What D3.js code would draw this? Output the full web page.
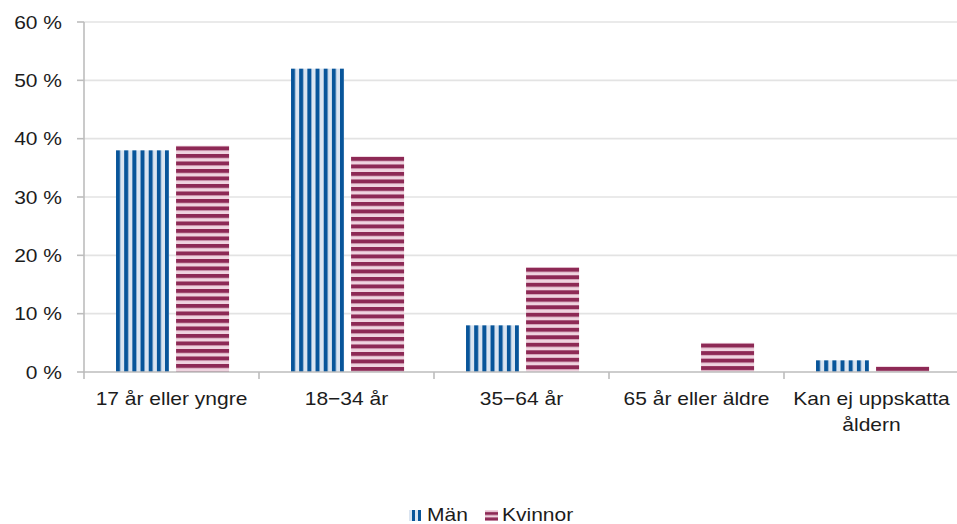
<!DOCTYPE html>
<html><head><meta charset="utf-8">
<script src="https://cdn.jsdelivr.net/npm/d3@7"></script>
<style>body{margin:0;background:#fff;} svg{display:block;font-family:"Liberation Sans",Arial,Helvetica,sans-serif;}</style>
</head><body><svg id="c" width="957" height="524"></svg>
<script>
const categories = ["17 år eller yngre", "18−34 år", "35−64 år", "65 år eller äldre", "Kan ej uppskatta åldern"];
const series = ["Män", "Kvinnor"];
const men = [38, 52, 8, 0, 2];
const women = [38.8, 37, 18, 5, 1];
const yTicks = [0, 10, 20, 30, 40, 50, 60];

const W = 957, H = 524;
const m = {left: 84, top: 22, bottom: 152};
const svg = d3.select("#c");
const defs = svg.append("defs");
const FS = 18.6, SX = 1.13;

const x0 = d3.scaleBand().domain(categories).range([m.left, m.left + 875]).paddingInner(0).paddingOuter(0);
const x1 = d3.scaleBand().domain(series).range([x0.bandwidth() * 0.183, x0.bandwidth() * 0.829]).paddingInner(0.117).paddingOuter(0);
const y = d3.scaleLinear().domain([0, 60]).range([H - m.bottom, m.top]);

const colors = {
  "Män": {dark: "#08559a", light: "#dbe5f1"},
  "Kvinnor": {dark: "#8d2955", light: "#efd3df"}
};

// gridlines
svg.append("g").selectAll("line").data(yTicks.filter(d => d > 0)).join("line")
  .attr("x1", m.left).attr("x2", W).attr("y1", d => y(d)).attr("y2", d => y(d))
  .attr("stroke", "#e3e3e3").attr("stroke-width", 1.6);

// bars
const rows = series.map((s, si) => categories.map((c, ci) => ({s, c, v: si === 0 ? men[ci] : women[ci]}))).flat();
const barG = svg.append("g");
rows.forEach((d, i) => {
  const bx = x0(d.c) + x1(d.s), bw = x1.bandwidth();
  const by = y(d.v), bh = y(0) - y(d.v);
  if (bh <= 0) return;
  const col = colors[d.s];
  const id = "p" + i;
  const p = defs.append("pattern").attr("id", id).attr("patternUnits", "userSpaceOnUse");
  if (d.s === "Män") {
    const dw = 4.0, per = (bw - dw) / 6;
    p.attr("x", bx).attr("y", 0).attr("width", per).attr("height", 10);
    p.append("rect").attr("width", per).attr("height", 10).attr("fill", col.light);
    p.append("rect").attr("width", dw).attr("height", 10).attr("fill", col.dark);
  } else {
    const per = 7.5;
    p.attr("x", 0).attr("y", by + 0.8).attr("width", 10).attr("height", per);
    p.append("rect").attr("width", 10).attr("height", per).attr("fill", col.light);
    p.append("rect").attr("width", 10).attr("height", 4.0).attr("fill", col.dark);
  }
  barG.append("rect").attr("x", bx).attr("y", by).attr("width", bw).attr("height", bh)
    .attr("fill", `url(#${id})`);
});

// axes
const axisCol = "#bdbdbd";
svg.append("line").attr("x1", m.left).attr("x2", m.left).attr("y1", y(60)).attr("y2", y(0) + 1)
  .attr("stroke", axisCol).attr("stroke-width", 1.6);
svg.append("line").attr("x1", m.left - 1).attr("x2", W).attr("y1", y(0)).attr("y2", y(0))
  .attr("stroke", axisCol).attr("stroke-width", 1.6);
svg.append("g").selectAll("line").data(yTicks).join("line")
  .attr("x1", m.left - 7).attr("x2", m.left).attr("y1", d => y(d)).attr("y2", d => y(d))
  .attr("stroke", axisCol).attr("stroke-width", 1.6);
svg.append("g").selectAll("line").data(categories).join("line")
  .attr("x1", d => x0(d)).attr("x2", d => x0(d)).attr("y1", y(0)).attr("y2", y(0) + 7)
  .attr("stroke", axisCol).attr("stroke-width", 1.6);

function txt(g, x, yy, s, anchor) {
  return g.append("text").attr("transform", `translate(${x},${yy}) scale(${SX},1)`)
    .attr("text-anchor", anchor).attr("font-size", FS).attr("fill", "#1c1c1c").text(s);
}
const yl = svg.append("g");
yTicks.forEach(t => txt(yl, 62, y(t) + 6.6, t + " %", "end"));

const xl = svg.append("g");
categories.forEach(c => {
  const cx = x0(c) + x0.bandwidth() / 2;
  const lines = c === "Kan ej uppskatta åldern" ? ["Kan ej uppskatta", "åldern"] : [c];
  lines.forEach((l, i) => txt(xl, cx, 405 + i * 26, l, "middle"));
});

// legend
const lg = svg.append("g");
const lp1 = defs.append("pattern").attr("id", "lm").attr("patternUnits", "userSpaceOnUse").attr("x", 409).attr("width", 6).attr("height", 10);
lp1.append("rect").attr("width", 6).attr("height", 10).attr("fill", colors["Män"].light);
lp1.append("rect").attr("x", 3).attr("width", 3).attr("height", 10).attr("fill", colors["Män"].dark);
const lp2 = defs.append("pattern").attr("id", "lk").attr("patternUnits", "userSpaceOnUse").attr("y", 510).attr("width", 10).attr("height", 5.5);
lp2.append("rect").attr("width", 10).attr("height", 5.5).attr("fill", colors["Kvinnor"].light);
lp2.append("rect").attr("y", 2).attr("width", 10).attr("height", 3).attr("fill", colors["Kvinnor"].dark);
lg.append("rect").attr("x", 409).attr("y", 510).attr("width", 12).attr("height", 11).attr("fill", "url(#lm)");
txt(lg, 427, 521, series[0], "start");
lg.append("rect").attr("x", 485).attr("y", 510).attr("width", 13).attr("height", 11).attr("fill", "url(#lk)");
txt(lg, 502, 521, series[1], "start");
</script></body></html>
